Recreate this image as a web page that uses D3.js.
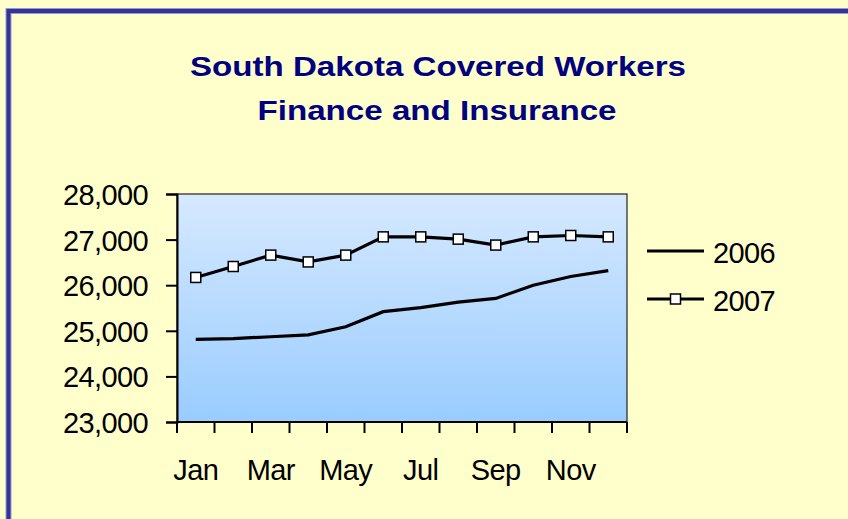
<!DOCTYPE html>
<html>
<head>
<meta charset="utf-8">
<script src="https://cdn.jsdelivr.net/npm/d3@7"></script>
<style>
  body { margin: 0; background: #ffffcc; overflow: hidden; }
  svg { display: block; }
</style>
</head>
<body>
<div id="chart"></div>
<script>
// data
var months = ['Jan', 'Feb', 'Mar', 'Apr', 'May', 'Jun', 'Jul', 'Aug', 'Sep', 'Oct', 'Nov', 'Dec'];
var values2006 = [24810, 24830, 24870, 24910, 25090, 25420, 25510, 25630, 25710, 26000, 26190, 26320];
var values2007 = [26170, 26410, 26660, 26510, 26660, 27060, 27060, 27010, 26880, 27060, 27090, 27060];
var yTicks = [23000, 24000, 25000, 26000, 27000, 28000];
var titleLines = ['South Dakota Covered Workers', 'Finance and Insurance'];

var width = 848;
var height = 519;
var plot = {'left': 177, 'top': 194, 'right': 627, 'bottom': 422};
var font = '"Liberation Sans", Arial, sans-serif';

var svg = d3.select('#chart')
    .append('svg')
    .attr('width', width)
    .attr('height', height);

// gradient for plot area
var grad = svg.append('defs')
    .append('linearGradient')
    .attr('id', 'plotfill')
    .attr('x1', 0).attr('y1', 0)
    .attr('x2', 0).attr('y2', 1);
grad.append('stop').attr('offset', '0%').attr('stop-color', '#d6e9ff');
grad.append('stop').attr('offset', '100%').attr('stop-color', '#99ccff');

// background + frame
svg.append('rect')
    .attr('x', 0).attr('y', 0)
    .attr('width', width).attr('height', height)
    .style('fill', '#ffffcc');

svg.append('rect')
    .attr('x', 8.5).attr('y', 11)
    .attr('width', width + 20).attr('height', height + 20)
    .style('fill', 'none')
    .style('stroke', '#9999cc')
    .style('stroke-width', 6);

svg.append('rect')
    .attr('x', 8.5).attr('y', 11)
    .attr('width', width + 20).attr('height', height + 20)
    .style('fill', 'none')
    .style('stroke', '#333399')
    .style('stroke-width', 4);

// title
var title = svg.append('g')
    .attr('class', 'title')
    .style('font-family', font)
    .style('font-weight', 'bold')
    .style('font-size', '28px')
    .style('fill', '#000080');

title.append('text')
    .attr('x', 438).attr('y', 76)
    .attr('text-anchor', 'middle')
    .attr('textLength', 496)
    .attr('lengthAdjust', 'spacingAndGlyphs')
    .text(titleLines[0]);

title.append('text')
    .attr('x', 437).attr('y', 120)
    .attr('text-anchor', 'middle')
    .attr('textLength', 359)
    .attr('lengthAdjust', 'spacingAndGlyphs')
    .text(titleLines[1]);

// scales
var x = d3.scaleBand()
    .domain(months)
    .range([plot.left, plot.right]);

var y = d3.scaleLinear()
    .domain([23000, 28000])
    .range([plot.bottom, plot.top]);

// plot area
svg.append('rect')
    .attr('x', plot.left).attr('y', plot.top)
    .attr('width', plot.right - plot.left)
    .attr('height', plot.bottom - plot.top)
    .style('fill', 'url(#plotfill)')
    .style('stroke', '#222')
    .style('stroke-width', 1.2);

// y axis
var yAxis = svg.append('g')
    .attr('transform', 'translate(' + plot.left + ',0)')
    .call(d3.axisLeft(y)
        .tickValues(yTicks)
        .tickSize(11)
        .tickPadding(18)
        .tickFormat(d3.format(',')));

yAxis.select('.domain').style('stroke', '#000').style('stroke-width', 2);
yAxis.selectAll('.tick line').style('stroke', '#000').style('stroke-width', 2);
yAxis.selectAll('.tick text')
    .style('font-family', font)
    .style('font-size', '29px')
    .style('letter-spacing', '-0.6px')
    .style('fill', '#000')
    .attr('dy', '0.36em');

// x axis: ticks at band edges, labels every other month
var edges = months.map(function(m) { return x(m); }).concat([plot.right]);
var xAxis = svg.append('g').attr('class', 'xaxis');

xAxis.append('line')
    .attr('x1', plot.left).attr('x2', plot.right)
    .attr('y1', plot.bottom).attr('y2', plot.bottom)
    .style('stroke', '#000').style('stroke-width', 2);

xAxis.selectAll('.xtick')
    .data(edges)
    .enter().append('line')
    .attr('class', 'xtick')
    .attr('x1', function(d) { return d; })
    .attr('x2', function(d) { return d; })
    .attr('y1', plot.bottom)
    .attr('y2', plot.bottom + 11)
    .style('stroke', '#000').style('stroke-width', 2);

xAxis.selectAll('.xlabel')
    .data(months.filter(function(m, i) { return i % 2 === 0; }))
    .enter().append('text')
    .attr('class', 'xlabel')
    .attr('x', function(d) { return x(d) + x.bandwidth() / 2; })
    .attr('y', 480)
    .attr('text-anchor', 'middle')
    .style('font-family', font)
    .style('font-size', '29px')
    .style('letter-spacing', '-0.6px')
    .style('fill', '#000')
    .text(function(d) { return d; });

// lines
var line = d3.line()
    .x(function(d, i) { return x(months[i]) + x.bandwidth() / 2; })
    .y(function(d) { return y(d); });

svg.append('path')
    .datum(values2006)
    .attr('d', line)
    .style('fill', 'none')
    .style('stroke', '#000')
    .style('stroke-width', 3.2);

svg.append('path')
    .datum(values2007)
    .attr('d', line)
    .style('fill', 'none')
    .style('stroke', '#000')
    .style('stroke-width', 3.2);

svg.selectAll('.marker')
    .data(values2007)
    .enter().append('rect')
    .attr('class', 'marker')
    .attr('x', function(d, i) { return x(months[i]) + x.bandwidth() / 2 - 5; })
    .attr('y', function(d) { return y(d) - 5; })
    .attr('width', 10)
    .attr('height', 10)
    .style('fill', '#fff')
    .style('stroke', '#000')
    .style('stroke-width', 1.5);

// legend
var legendItems = [
    {'name': '2006', 'marker': false, 'y': 251},
    {'name': '2007', 'marker': true, 'y': 299}
];

var legend = svg.append('g').attr('class', 'legend');

legendItems.forEach(function(item) {
    legend.append('line')
        .attr('x1', 647).attr('x2', 704)
        .attr('y1', item.y).attr('y2', item.y)
        .style('stroke', '#000')
        .style('stroke-width', 3.2);
    if (item.marker) {
        legend.append('rect')
            .attr('x', 670.5).attr('y', item.y - 5)
            .attr('width', 10).attr('height', 10)
            .style('fill', '#fff')
            .style('stroke', '#000')
            .style('stroke-width', 1.5);
    }
    legend.append('text')
        .attr('x', 713)
        .attr('y', item.y + 12)
        .style('font-family', font)
        .style('font-size', '29px')
        .style('letter-spacing', '-0.6px')
        .style('fill', '#000')
        .text(item.name);
});
</script>
</body>
</html>
